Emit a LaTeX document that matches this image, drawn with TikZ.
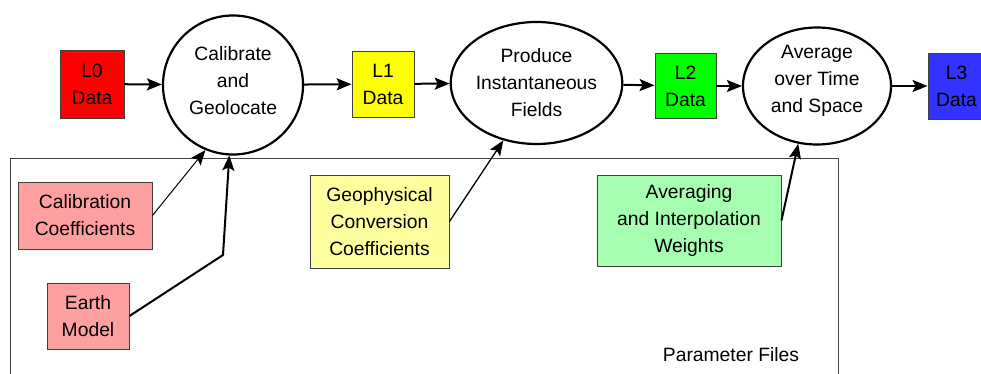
\documentclass[tikz,border=0pt]{standalone}
\usepackage{fontspec}
\setmainfont{Liberation Sans}
\usepackage{xcolor}
\usepackage{tikz}
\usetikzlibrary{shapes.geometric,arrows.meta,positioning,calc}
\definecolor{lzero}{HTML}{FF0000}
\definecolor{lone}{HTML}{FFFF00}
\definecolor{ltwo}{HTML}{00FF00}
\definecolor{lthree}{HTML}{3333FF}
\definecolor{pinkfile}{HTML}{FFA0A0}
\definecolor{yellowfile}{HTML}{FFFFA0}
\definecolor{greenfile}{HTML}{A6FFB0}
\definecolor{frame}{HTML}{404040}

\begin{document}
\begin{tikzpicture}[
  x=1pt, y=-1pt,
  every node/.style={font=\fontsize{19.3}{27}\selectfont, inner sep=0pt, align=center},
  databox/.style={rectangle, draw=frame, line width=0.9pt},
  filebox/.style={rectangle, draw=frame, line width=0.9pt},
  process/.style={ellipse, draw=black, line width=2.2pt, fill=white},
  flow/.style={-{Stealth[length=15pt, width=12pt, inset=3pt]}, line width=2pt},
  feed/.style={-{Stealth[length=15pt, width=12pt, inset=3pt]}, line width=1pt}
]
\useasboundingbox (0,0) rectangle (981,374);

% parameter files frame
\draw[frame, line width=1pt] (10,380) |- (838,159) -- (838,380);
\node (pf) at (731,355) {Parameter Files};

% processing chain
\node[databox, fill=lzero, minimum width=64pt, minimum height=68pt] (l0) at (92,84) {L0\\Data};
\node[process, minimum width=140pt, minimum height=139pt] (cal) at (233,85) {Calibrate\\and\\Geolocate\\[-19pt]};
\node[databox, fill=lone, minimum width=62pt, minimum height=66pt] (l1) at (383,84) {L1\\Data};
\node[process, minimum width=169pt, minimum height=122pt] (prod) at (536.5,83) {Produce\\Instantaneous\\Fields};
\node[databox, fill=ltwo, minimum width=61pt, minimum height=65pt] (l2) at (685.5,86) {L2\\Data};
\node[process, minimum width=148pt, minimum height=117pt] (avg) at (817,86) {Average\\over Time\\and Space\\[-12pt]};
\node[databox, fill=lthree, minimum width=57pt, minimum height=66pt] (l3) at (956.5,86) {L3\\Data};

\draw[flow] (l0) -- (cal);
\draw[flow] (cal) -- (l1);
\draw[flow] (l1) -- (prod);
\draw[flow] (prod) -- (l2);
\draw[flow] (l2) -- (avg);
\draw[flow] (avg) -- (l3);

% parameter inputs
\node[filebox, fill=pinkfile, minimum width=134pt, minimum height=67pt] (calco) at (85,215.5) {Calibration\\Coefficients};
\node[filebox, fill=pinkfile, minimum width=82pt, minimum height=66pt] (earth) at (88,316) {Earth\\Model};
\node[filebox, fill=yellowfile, minimum width=139pt, minimum height=93pt] (geo) at (379.5,221.5) {Geophysical\\Conversion\\Coefficients};
\node[filebox, fill=greenfile, minimum width=184pt, minimum height=91pt] (wts) at (689,220.5) {Averaging\\and Interpolation\\Weights};

\coordinate (bend) at (223,255);
\draw[feed] (calco.east) -- (cal.247);
\draw[flow] (earth.east) -- (bend) -- (cal.267);
\draw[feed, line width=1.3pt] (geo.east) -- (prod.240);
\draw[flow] (wts.east) -- (avg.252);
\end{tikzpicture}
\end{document}
